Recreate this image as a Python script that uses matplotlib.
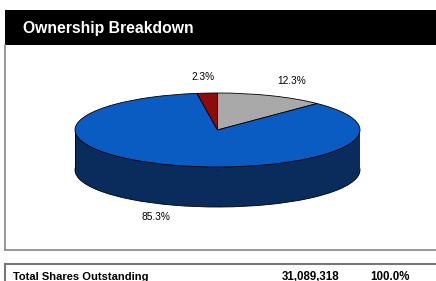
import matplotlib
matplotlib.use("Agg")
import matplotlib.pyplot as plt
from matplotlib.patches import Rectangle

plt.rcParams['font.family'] = ['Liberation Sans', 'DejaVu Sans']

# data
shares = [12.3, 85.3, 2.3]          # clockwise from 12 o'clock
pct_labels = ['12.3%', '85.3%', '2.3%']
top_colors = ['#A9A9A9', '#0A5BC2', '#8E0B0B']
side_colors = ['#6E6E6E', '#0A2C5C', '#5A0707']
title = 'Ownership Breakdown'
total_label = 'Total Shares Outstanding'
total_shares = '31,089,318'
total_pct = '100.0%'

W, H = 436, 281
fig = plt.figure(figsize=(W / 100, H / 100), dpi=100)

# background axes in pixel coords
bg = fig.add_axes([0, 0, 1, 1])
bg.set_xlim(0, W)
bg.set_ylim(H, 0)
bg.axis('off')

bg.add_patch(Rectangle((5, 10), W - 5, 35, facecolor='black', edgecolor='none'))
bg.text(23, 29, title, color='white', fontsize=11.3, fontweight='bold', va='center', ha='left')
bg.plot([5, 5], [45, 250], color='#888888', lw=1.2)
bg.plot([5, W], [250, 250], color='#888888', lw=1.2)
bg.plot([5, W], [264, 264], color='#777777', lw=1.5)
bg.plot([5, 5], [264, H], color='#777777', lw=1.5)
bg.text(13, 276.5, total_label, fontsize=8, fontweight='bold', va='center', ha='left')
bg.text(282, 276.5, total_shares, fontsize=8.3, fontweight='bold', va='center', ha='left')
bg.text(370, 276.5, total_pct, fontsize=8.3, fontweight='bold', va='center', ha='left')

# pie axes: ellipse centre at (217.5,130) px, a=142.5, b=37, depth 40 px
left, right, top, bot = 75, 360, 60, 230
cy, b, depth_px = 130, 37, 40
ax = fig.add_axes([left / W, (H - bot) / H, (right - left) / W, (bot - top) / H])
d = depth_px / b

ax.pie(shares, colors=side_colors, startangle=90, counterclock=False, center=(0, -d),
       wedgeprops=dict(edgecolor='black', linewidth=0.6), frame=True)
ax.add_patch(Rectangle((-1, -d), 2, d, facecolor=side_colors[1], edgecolor='none', zorder=2))
ax.plot([-1, -1], [0, -d], color='black', lw=0.6, zorder=3)
ax.plot([1, 1], [0, -d], color='black', lw=0.6, zorder=3)
wedges, _ = ax.pie(shares, colors=top_colors, startangle=90, counterclock=False,
                   wedgeprops=dict(edgecolor='black', linewidth=0.6), frame=True)
for w in wedges:
    w.set_zorder(4)

label_pos = [(0.52, 1.32), (-0.43, -2.35), (-0.10, 1.43)]
for txt, (lx, ly) in zip(pct_labels, label_pos):
    ax.text(lx, ly, txt, fontsize=7.3, ha='center', va='center', zorder=5)

ax.set_aspect('auto')
ax.set_xlim(-1, 1)
ax.set_ylim(-(bot - cy) / b, (cy - top) / b)
ax.axis('off')

fig.savefig('out.png', dpi=100)
